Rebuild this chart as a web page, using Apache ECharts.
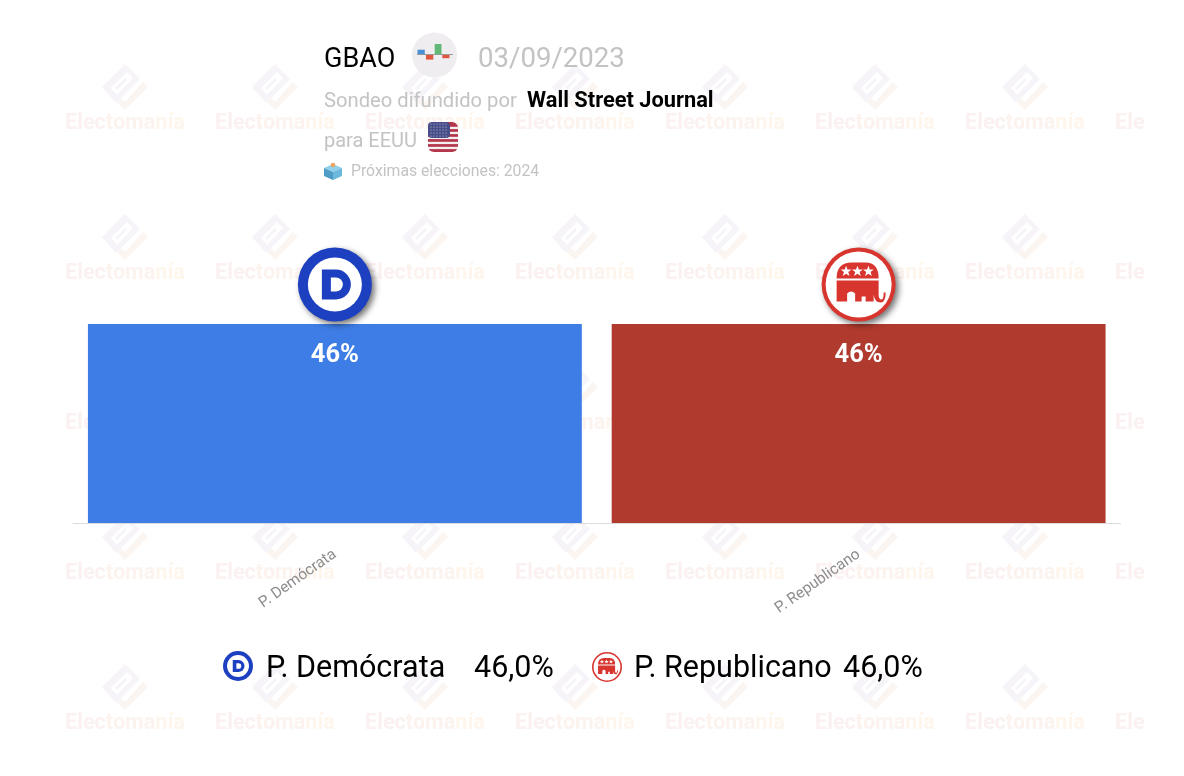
<!DOCTYPE html>
<html>
<head>
<meta charset="utf-8">
<style>html,body{margin:0;padding:0;background:#fff}#c{width:1184px;height:776px}</style>
<script src="https://cdn.jsdelivr.net/npm/echarts@6/dist/echarts.min.js"></script>
</head>
<body>
<div id="c"></div>
<script>
const categories = ['P. Demócrata', 'P. Republicano'];
const values = [46, 46];
const barColors = ['#3e7de5', '#b03a2e'];
const legendValues = ['46,0%', '46,0%'];
const pollster = 'GBAO';
const pollDate = '03/09/2023';
const sponsorPrefix = 'Sondeo difundido por';
const sponsor = 'Wall Street Journal';
const countryLine = 'para EEUU';
const nextElection = 'Próximas elecciones: 2024';
const FONT = 'Roboto, sans-serif';

const G = echarts.graphic;
G.registerShape('demOuter', G.extendPath('M-13,-15 H1 a15,15 0 0 1 0,30 H-13 Z', {}));
G.registerShape('demInner', G.extendPath('M-4,-7 H1 a7,7 0 0 1 0,14 H-4 Z', {}));
G.registerShape('repBody', G.extendPath(
  'M-22,-6 Q-22,-22 -7,-22 L7,-22 Q20,-22 20,-6 Z ' +
  'M-22,-4 L20,-4 L20,10 Q20,15 23,15 Q25,15 25,8 L27,8 Q27,18 22,18 Q16,18 15,10 L15,17 L7,17 L7,12 L3,12 L3,17 L-3.5,17 L-3.5,9 Q-7.5,5 -11.5,9 L-11.5,17 L-22,17 Z', {}));
G.registerShape('repStar', G.extendPath('M0,-4 L1,-1.2 L4,-1.2 L1.6,0.6 L2.5,3.5 L0,1.8 L-2.5,3.5 L-1.6,0.6 L-4,-1.2 L-1,-1.2 Z', {}));

const chart = echarts.init(document.getElementById('c'), null, {width: 1184, height: 776});

chart.setOption({
  animation: false,
  backgroundColor: '#fff',
  grid: {left: 73, right: 63.5, top: 306.7, bottom: 253},
  xAxis: {
    type: 'category', data: categories,
    axisTick: {show: false},
    axisLine: {lineStyle: {color: '#dcdcdc', width: 1}},
    axisLabel: {rotate: 35, color: '#8c8c8c', fontSize: 15.4, fontFamily: FONT, margin: 30}
  },
  yAxis: {type: 'value', min: 0, max: 50, show: false},
  series: [{
    type: 'bar', barWidth: '94.3%', z: 2,
    data: values.map((v, i) => ({value: v, itemStyle: {color: barColors[i]}})),
    label: {show: true, position: 'insideTop', distance: 19, formatter: p => p.value + '%',
      color: '#fff', fontFamily: FONT, fontWeight: 700, fontSize: 25.5}
  }]
});

const els = [];
const TOP = 10;

function text(x, y, t, size, color, weight, align) {
  els.push({type: 'text', x, y, z: TOP, style: {text: t, fontFamily: FONT, fontSize: size, fill: color,
    fontWeight: weight || 400, textAlign: align || 'left', textVerticalAlign: 'middle'}});
}
function poly(points, fill, z) { els.push({type: 'polygon', z: z, shape: {points}, style: {fill}}); }
function box(x, y, w, h, fill, r, z) { els.push({type: 'rect', z: z === undefined ? TOP : z, shape: {x, y, width: w, height: h, r: r || 0}, style: {fill}}); }
function circ(cx, cy, r, fill, extra) { els.push({type: 'circle', z: TOP, shape: {cx, cy, r}, style: Object.assign({fill}, extra || {})}); }
function shape(type, x, y, k, fill) { els.push({type, z: TOP, x, y, scaleX: k, scaleY: k, style: {fill}}); }

// Watermark grid
const wmCols = [125, 275, 425, 575, 725, 875, 1025, 1175];
const wmRows = [87, 237, 387, 537, 687];
const wmRich = c => ({fill: c, fontSize: 21.6, fontWeight: 700, fontFamily: FONT});
wmRows.forEach(cy => wmCols.forEach(cx => {
  const P = a => a.map(p => [cx + p[0], cy + p[1]]);
  poly(P([[0,-23],[15,-8],[-9,16],[-23,0]]), '#f6f3f9', 0);
  poly(P([[-14,1],[2,-15],[8,-9],[-8,8]]), '#ffffff', 0);
  poly(P([[-10,1],[0,-9],[2,-7],[-8,3]]), '#f6f3f9', 0);
  poly(P([[18,-5],[23,0],[0,23],[-8,15],[-4,11],[0,15]]), '#fbf5f2', 0);
  els.push({type: 'text', x: cx, y: cy + 36.5, z: 0, style: {
    text: '{a|Elec}{b|toma}{c|nía}', textAlign: 'center', textVerticalAlign: 'middle',
    rich: {a: wmRich('#fbf1f1'), b: wmRich('#fcf3ef'), c: wmRich('#fef6ec')}
  }});
}));
box(1144, 0, 40, 776, '#ffffff', 0, 1);

// Header
text(324, 60, pollster, 27, '#000');
circ(434.5, 55, 22.5, '#efedef');
box(417, 54, 36, 1, '#9a9a9a');
box(417.5, 49.7, 7.3, 4.4, '#4a90d9');
box(426, 55, 7.3, 4.6, '#e2553f');
box(434.7, 44, 6.8, 10.2, '#62b977');
box(442.3, 55, 7.2, 3.2, '#e2553f');
text(478, 60, pollDate, 27.6, '#c3c3c3');
text(324, 102, sponsorPrefix, 20.2, '#c3c3c3');
text(527, 102, sponsor, 21.8, '#000', 700);
text(324, 142, countryLine, 20, '#c3c3c3');

// Flag
box(428, 122, 30, 30, '#b5354a', 6);
[127, 132, 137, 142, 147].forEach(y => box(428, y - 0.2, 30, 2.3, '#f3eef0'));
box(428, 122, 22, 16, '#474d88', 4);
[124, 127, 130, 133, 136].forEach(y => [431, 434, 437, 440, 443, 446].forEach(x => circ(x, y, 0.6, '#c9cbe2')));

// Ballot box icon
poly([[333,164],[342,168],[333,172],[324,168]], '#8fd0ea', TOP);
poly([[324,168],[333,172],[333,180],[324,176]], '#4f9cc6', TOP);
poly([[342,168],[333,172],[333,180],[342,176]], '#6cb7dc', TOP);
circ(333, 165, 2.2, '#f0a35a');
text(351, 172.5, nextElection, 15.75, '#c3c3c3');

// Party logos
const SHADOW = {shadowBlur: 6, shadowColor: 'rgba(0,0,0,.55)', shadowOffsetX: 3, shadowOffsetY: 3};
function demLogo(cx, cy, r, shadow) {
  const k = r / 37;
  circ(cx, cy, r, '#1c40c0', shadow ? SHADOW : null);
  circ(cx, cy, 27 * k, '#fff');
  shape('demOuter', cx, cy, k, '#1c40c0');
  shape('demInner', cx, cy, k, '#fff');
}
function repLogo(cx, cy, r, shadow) {
  const k = r / 37;
  circ(cx, cy, r, '#d8352f', shadow ? SHADOW : null);
  circ(cx, cy, r - (shadow ? 4 : 1.6), '#fff');
  shape('repBody', cx, cy, k, '#d8352f');
  [-12.5, -1.2, 9.8].forEach(dx => shape('repStar', cx + dx * k, cy - 13.3 * k, k * 1.35, '#fff'));
}
const topOf = i => chart.convertToPixel({seriesIndex: 0}, [i, values[i]]);
const p0 = topOf(0), p1 = topOf(1);
demLogo(p0[0], p0[1] - 39.5, 37, true);
repLogo(p1[0], p1[1] - 39.5, 37, true);

// Legend
demLogo(238, 666, 15, false);
text(266, 669.5, categories[0], 30.5, '#000');
text(474, 669.5, legendValues[0], 30.5, '#000');
repLogo(607, 667, 15, false);
text(634, 669.5, categories[1], 30.5, '#000');
text(843, 669.5, legendValues[1], 30.5, '#000');

chart.setOption({graphic: {elements: els}});
</script>
</body>
</html>
